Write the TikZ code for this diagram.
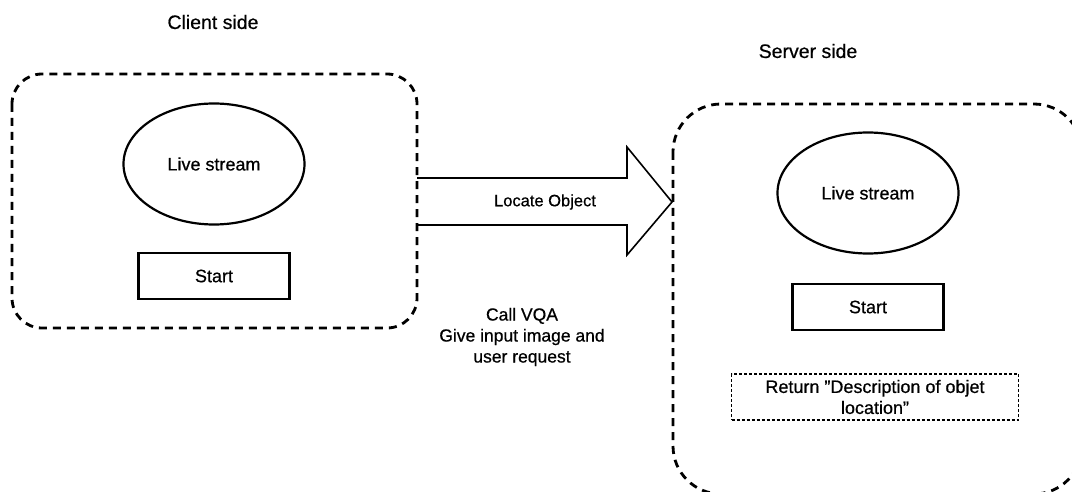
\documentclass[tikz,border=0pt]{standalone}
\usepackage{fontspec}
\setmainfont{Liberation Sans}[FakeBold=0.6]
\usetikzlibrary{shapes.geometric,shapes.arrows}
\begin{document}
\begin{tikzpicture}[x=1pt,y=-1pt,
  every node/.style={font=\fontsize{18}{22}\selectfont},
  group/.style={draw, line width=2.8pt, dash pattern=on 8pt off 6pt},
  stream/.style={draw, ellipse, line width=2.2pt, minimum width=181pt, minimum height=121pt, inner sep=0pt},
  startbox/.style={draw, rectangle, line width=2.4pt, minimum width=151pt, minimum height=46pt, inner sep=0pt},
  retbox/.style={draw, rectangle, line width=1.4pt, dash pattern=on 3pt off 2pt, minimum width=287pt, minimum height=46pt, inner sep=0pt, align=center},
  bigarrow/.style={draw, line width=1.6pt},
  lbl/.style={inner sep=0pt, align=center}]
\useasboundingbox (0,0) rectangle (1072,492);
% groups
\draw[group, rounded corners=30pt] (12,74) rectangle (417,328);
\draw[group, rounded corners=48pt] (673,104) rectangle (1082,494);
% labels
\node[lbl, font=\fontsize{19.5}{22}\selectfont] (client) at (213,22) {Client side};
\node[lbl, font=\fontsize{19.5}{22}\selectfont] (server) at (808,51) {Server side};
% client side
\node[stream] (ls1) at (214,164) {Live stream};
\node[startbox] (st1) at (214,276) {Start};
% server side
\node[stream] (ls2) at (868,193) {Live stream};
\node[startbox] (st2) at (868,307) {Start};
\node[retbox, font=\fontsize{18}{21}\selectfont] (ret) at (875,397) {Return \symbol{34}Description of objet\\location\symbol{34}};
% big arrow
\coordinate (a0) at (417,178);
\coordinate (tip) at (672,202);
\draw[bigarrow] (a0) -- (627,178) -- (627,147) -- (tip) -- (627,255) -- (627,225) -- (417,225);
\node[lbl, font=\fontsize{16.5}{20}\selectfont] (loc) at (545,202) {Locate Object};
% call text
\node[lbl, font=\fontsize{17.5}{21}\selectfont] (call) at (522,337) {Call VQA\\Give input image and\\user request};
\end{tikzpicture}
\end{document}
